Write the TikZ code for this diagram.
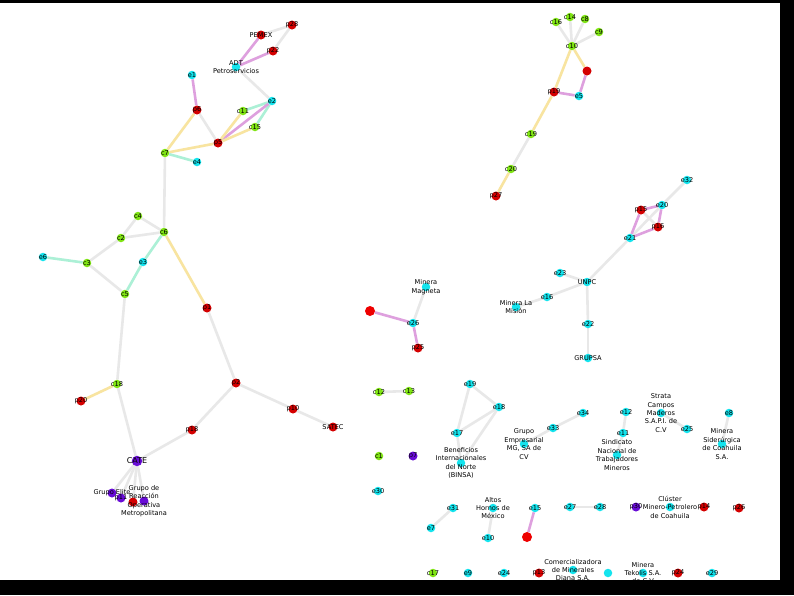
\documentclass[tikz,border=0pt]{standalone}
\usepackage{fontspec}
\newfontfamily\lblfont{DejaVu Sans}
\usetikzlibrary{backgrounds}
\definecolor{ecol}{RGB}{20,228,238}
\definecolor{pcol}{RGB}{212,0,0}
\definecolor{ccol}{RGB}{128,228,20}
\definecolor{gcol}{RGB}{104,12,214}
\definecolor{xcol}{RGB}{238,0,0}
\definecolor{grayline}{RGB}{232,232,232}
\definecolor{plumline}{RGB}{222,160,222}
\definecolor{sandline}{RGB}{248,228,160}
\definecolor{mintline}{RGB}{172,240,214}
\begin{document}
\begin{tikzpicture}[x=1pt,y=-1pt,
  every label/.style={font=\lblfont\fontsize{6.6}{8.4}\selectfont,align=center,inner sep=0pt,text=black},
  e node/.style={circle,fill=ecol,inner sep=0pt,minimum size=8.5pt},
  p node/.style={circle,fill=pcol,inner sep=0pt,minimum size=9pt},
  c node/.style={circle,fill=ccol,inner sep=0pt,minimum size=8.5pt},
  g node/.style={circle,fill=gcol,inner sep=0pt,minimum size=9pt},
  x node/.style={circle,fill=xcol,inner sep=0pt,minimum size=10pt},
  gray edge/.style={draw=grayline,line width=2.6pt},
  plum edge/.style={draw=plumline,line width=2.6pt},
  sand edge/.style={draw=sandline,line width=2.6pt},
  mint edge/.style={draw=mintline,line width=2.6pt}]
\useasboundingbox (0,0) rectangle (794,595);
% left cluster
\node[p node,label=center:p28] (p28) at (292,25) {};
\node[p node,label=center:PEMEX] (pemex) at (261,35) {};
\node[p node,label=center:p22] (p22) at (273,51) {};
\node[e node,label={center:{ADT\\Petroservicios}}] (adt) at (236,67) {};
\node[e node,label=center:e1] (e1) at (192,75) {};
\node[e node,label=center:e2] (e2) at (272,101) {};
\node[p node,label=center:p6] (p6) at (197,110) {};
\node[c node,label=center:c11] (c11) at (243,111) {};
\node[c node,label=center:c15] (c15) at (255,127) {};
\node[p node,label=center:p5] (p5) at (218,143) {};
\node[c node,label=center:c7] (c7) at (165,153) {};
\node[e node,label=center:e4] (e4) at (197,162) {};
\node[c node,label=center:c4] (c4) at (138,216) {};
\node[c node,label=center:c6] (c6) at (164,232) {};
\node[c node,label=center:c2] (c2) at (121,238) {};
\node[e node,label=center:e6] (e6) at (43,257) {};
\node[c node,label=center:c3] (c3) at (87,263) {};
\node[e node,label=center:e3] (e3) at (143,262) {};
\node[c node,label=center:c5] (c5) at (125,294) {};
\node[p node,label=center:p1] (p1) at (207,308) {};
\node[c node,label=center:c18] (c18) at (117,384) {};
\node[p node,label=center:p20] (p20) at (81,401) {};
\node[p node,label=center:p2] (p2) at (236,383) {};
\node[p node,label=center:p18] (p18) at (192,430) {};
\node[p node,label=center:p10] (p10) at (293,409) {};
\node[p node,label=center:SATEC] (satec) at (333,427) {};
\node[g node,minimum size=10.5pt,label={[font=\lblfont\fontsize{8}{9}\selectfont]center:CATE}] (cate) at (137,461) {};
\node[g node,label={center:Grupo Elite}] (grelite) at (112,493) {};
\node[g node,label=center:p11] (p11) at (121,498) {};
\node[p node] (p21) at (133,502) {};
\node[g node,label={center:{Grupo de\\Reacción\\Operativa\\Metropolitana}}] (grm) at (144,501) {};
% top right
\node[c node,label=center:c16] (c16) at (556,22) {};
\node[c node,label=center:c14] (c14) at (570,17) {};
\node[c node,label=center:c8] (c8) at (585,19) {};
\node[c node,label=center:c9] (c9) at (599,32) {};
\node[c node,label=center:c10] (c10) at (572,46) {};
\node[p node] (p3) at (587,71) {};
\node[p node,label=center:p19] (p19) at (554,92) {};
\node[e node,label=center:e5] (e5) at (579,96) {};
\node[c node,label=center:c19] (c19) at (531,134) {};
\node[c node,label=center:c20] (c20) at (511,169) {};
\node[p node,label=center:p27] (p27) at (496,196) {};
% UNPC
\node[e node,label=center:e32] (e32) at (687,180) {};
\node[e node,label=center:e20] (e20) at (662,205) {};
\node[p node,label=center:p15] (p15) at (641,210) {};
\node[p node,label=center:p16] (p16) at (658,227) {};
\node[e node,label=center:e21] (e21) at (630,238) {};
\node[e node,label=center:e23] (e23) at (560,273) {};
\node[e node,label=center:UNPC] (unpc) at (587,282) {};
\node[e node,label=center:e16] (e16) at (547,297) {};
\node[e node,label={center:{Minera La\\Misión}}] (mlm) at (516,307) {};
\node[e node,label=center:e22] (e22) at (588,324) {};
\node[e node,label=center:GRUPSA] (grupsa) at (588,358) {};
% middle
\node[e node,label={center:{Minera\\Magneta}}] (magneta) at (426,287) {};
\node[x node] (rx1) at (370,311) {};
\node[e node,label=center:e26] (e26) at (413,323) {};
\node[p node,label=center:p25] (p25) at (418,348) {};
\node[c node,label=center:c12] (c12) at (379,392) {};
\node[c node,label=center:c13] (c13) at (409,391) {};
\node[e node,label=center:e19] (e19) at (470,384) {};
\node[e node,label=center:e18] (e18) at (499,407) {};
\node[e node,label=center:e17] (e17) at (457,433) {};
\node[e node,label={center:{Beneficios\\Internacionales\\del Norte\\(BINSA)}}] (binsa) at (461,463) {};
\node[c node,label=center:c1] (c1) at (379,456) {};
\node[g node,label=center:p7] (p7) at (413,456) {};
\node[e node,label={center:{Grupo\\Empresarial\\MG, SA de\\CV}}] (grupomg) at (524,444) {};
\node[e node,label=center:e33] (e33) at (553,428) {};
\node[e node,label=center:e34] (e34) at (583,413) {};
\node[e node,label=center:e12] (e12) at (626,412) {};
\node[e node,label=center:e11] (e11) at (623,433) {};
\node[e node,label={center:{Sindicato\\Nacional de\\Trabajadores\\Mineros}}] (sindicato) at (617,455) {};
\node[e node,label={center:{Strata\\Campos\\Maderos\\S.A.P.I. de\\C.V}}] (strata) at (661,413) {};
\node[e node,label=center:e25] (e25) at (687,429) {};
\node[e node,label=center:e8] (e8) at (729,413) {};
\node[e node,label={center:{Minera\\Siderúrgica\\de Coahuila\\S.A.}}] (sider) at (722,444) {};
% bottom rows
\node[e node,label=center:e30] (e30) at (378,491) {};
\node[e node,label=center:e31] (e31) at (453,508) {};
\node[e node,label={center:{Altos\\Hornos de\\México}}] (altos) at (493,508) {};
\node[e node,label=center:e15] (e15) at (535,508) {};
\node[e node,label=center:e27] (e27) at (570,507) {};
\node[e node,label=center:e28] (e28) at (600,507) {};
\node[g node,label=center:p30] (p30) at (636,507) {};
\node[e node,label={center:{Clúster\\Minero-Petrolero\\de Coahuila}}] (cluster) at (670,507) {};
\node[p node,label=center:p14] (p14) at (704,507) {};
\node[p node,label=center:p26] (p26) at (739,508) {};
\node[e node,label=center:e7] (e7) at (431,528) {};
\node[e node,label=center:e10] (e10) at (488,538) {};
\node[x node] (rx2) at (527,537) {};
\node[c node,label=center:c17] (c17) at (433,573) {};
\node[e node,label=center:e9] (e9) at (468,573) {};
\node[e node,label=center:e24] (e24) at (504,573) {};
\node[p node,label=center:p13] (p13) at (539,573) {};
\node[e node,label={center:{Comercializadora\\de Minerales\\Diana S.A.}}] (diana) at (573,570) {};
\node[e node] (e35) at (608,573) {};
\node[e node,label={center:{Minera\\Tekolis S.A.\\de C.V}}] (tekolis) at (643,573) {};
\node[p node,label=center:p24] (p24) at (678,573) {};
\node[e node,label=center:e29] (e29) at (712,573) {};
\begin{scope}[on background layer]
\fill[white] (0,0) rectangle (794,595);
\draw[gray edge] (p28) -- (pemex);
\draw[gray edge] (p28) -- (p22);
\draw[plum edge] (pemex) -- (adt);
\draw[plum edge] (p22) -- (adt);
\draw[gray edge] (adt) -- (e2);
\draw[plum edge] (e1) -- (p6);
\draw[sand edge] (p6) -- (c7);
\draw[gray edge] (p6) -- (p5);
\draw[mint edge] (e2) -- (c11);
\draw[mint edge] (e2) -- (c15);
\draw[plum edge] (e2) -- (p5);
\draw[sand edge] (c11) -- (p5);
\draw[sand edge] (c15) -- (p5);
\draw[sand edge] (p5) -- (c7);
\draw[mint edge] (c7) -- (e4);
\draw[gray edge] (c7) -- (c6);
\draw[gray edge] (c4) -- (c6);
\draw[gray edge] (c2) -- (c4);
\draw[gray edge] (c2) -- (c6);
\draw[gray edge] (c2) -- (c3);
\draw[mint edge] (e6) -- (c3);
\draw[gray edge] (c3) -- (c5);
\draw[mint edge] (c6) -- (e3);
\draw[mint edge] (e3) -- (c5);
\draw[sand edge] (c6) -- (p1);
\draw[gray edge] (p1) -- (p2);
\draw[gray edge] (c5) -- (c18);
\draw[sand edge] (c18) -- (p20);
\draw[gray edge] (c18) -- (cate);
\draw[gray edge] (cate) -- (p18);
\draw[gray edge] (p18) -- (p2);
\draw[gray edge] (p2) -- (p10);
\draw[gray edge] (p10) -- (satec);
\draw[gray edge] (cate) -- (grelite);
\draw[gray edge] (cate) -- (p11);
\draw[gray edge] (cate) -- (p21);
\draw[gray edge] (cate) -- (grm);
%
\draw[gray edge] (c16) -- (c10);
\draw[gray edge] (c14) -- (c10);
\draw[gray edge] (c8) -- (c10);
\draw[gray edge] (c9) -- (c10);
\draw[sand edge] (c10) -- (p3);
\draw[sand edge] (c10) -- (p19);
\draw[plum edge] (p3) -- (e5);
\draw[plum edge] (p19) -- (e5);
\draw[sand edge] (p19) -- (c19);
\draw[gray edge] (c19) -- (c20);
\draw[sand edge] (c20) -- (p27);
%
\draw[gray edge] (e32) -- (e20);
\draw[gray edge] (e20) -- (e21);
\draw[gray edge] (p15) -- (p16);
\draw[plum edge] (e20) -- (p15);
\draw[plum edge] (e20) -- (p16);
\draw[plum edge] (p15) -- (e21);
\draw[plum edge] (p16) -- (e21);
\draw[gray edge] (e21) -- (unpc);
\draw[gray edge] (e23) -- (unpc);
\draw[gray edge] (e16) -- (unpc);
\draw[gray edge] (unpc) -- (e22);
\draw[gray edge] (e22) -- (grupsa);
\draw[gray edge] (e16) -- (mlm);
%
\draw[gray edge] (magneta) -- (e26);
\draw[plum edge] (rx1) -- (e26);
\draw[plum edge] (e26) -- (p25);
\draw[gray edge] (c12) -- (c13);
\draw[gray edge] (e19) -- (e18);
\draw[gray edge] (e19) -- (e17);
\draw[gray edge] (e17) -- (e18);
\draw[gray edge] (e17) -- (binsa);
\draw[gray edge] (e18) -- (binsa);
\draw[gray edge] (e33) -- (grupomg);
\draw[gray edge] (e33) -- (e34);
\draw[gray edge] (e12) -- (e11);
\draw[gray edge] (e11) -- (sindicato);
\draw[gray edge] (strata) -- (e25);
\draw[gray edge] (e8) -- (sider);
\draw[gray edge] (e31) -- (e7);
\draw[gray edge] (altos) -- (e10);
\draw[plum edge] (e15) -- (rx2);
\draw[gray edge] (e27) -- (e28);
\end{scope}
% frame
\fill[black] (780,0) rectangle (794,595);
\fill[black] (0,580) rectangle (794,595);
\fill[black] (0,0) rectangle (794,2.5);
\end{tikzpicture}
\end{document}
